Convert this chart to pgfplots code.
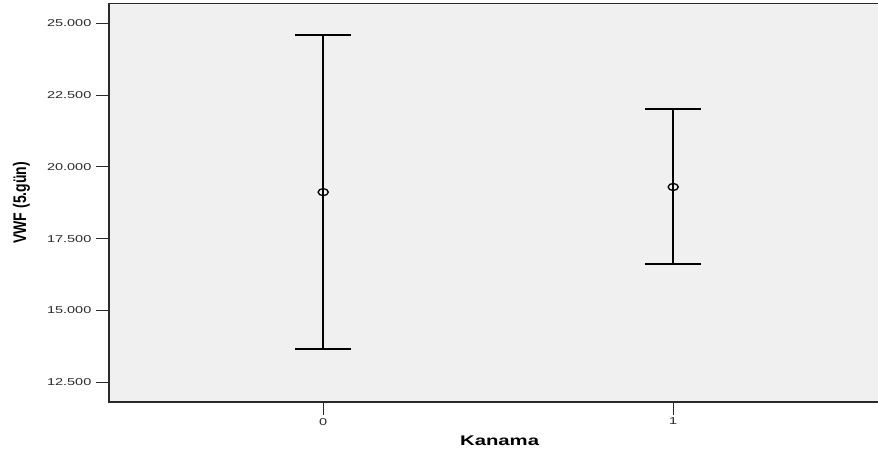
\documentclass[border=0pt]{standalone}
\usepackage{pgfplots}
\pgfplotsset{compat=1.18}
\usepackage{fontspec}
\setmainfont{Liberation Sans}
\definecolor{bg}{HTML}{F0F0F0}
\definecolor{axc}{HTML}{2A2A2A}
\begin{document}
\begin{tikzpicture}
\begin{axis}[
  scale only axis,
  width=781.2pt, height=398.5pt,
  xmin=-0.612, xmax=1.62, ymin=11810, ymax=25690,
  axis background/.style={fill=bg},
  axis line style={axc, line width=1.2pt},
  xtick={0,1}, xticklabels={0,1},
  ytick={12500,15000,17500,20000,22500,25000},
  xtick pos=bottom, ytick pos=left,
  tick align=outside, major tick length=12.5pt,
  tick style={axc, line width=1.1pt},
  scaled y ticks=false,
  /pgf/number format/assume math mode=true,
  yticklabel style={/pgf/number format/.cd, fixed, precision=0, 1000 sep={.}},
  every tick label/.append style={font=\fontsize{10}{12}\selectfont, xscale=1.45, text=axc},
  xlabel={\scalebox{1.45}[1]{\bfseries Kanama}},
  ylabel={\scalebox{1}[1.3]{\bfseries VWF (5.gün)}},
  xlabel style={font=\fontsize{14}{16}\selectfont, at={(axis description cs:0.5,0)}, yshift=-34pt, anchor=north, inner sep=0pt},
  ylabel style={font=\fontsize{14}{16}\selectfont, at={(axis description cs:-0.1233,0.5)}, anchor=north, inner sep=0pt},
]
\addplot[black, only marks, mark=o, mark size=3.5pt, mark options={xscale=1.45, line width=1.3pt},
  error bars/.cd, y dir=both, y explicit,
  error bar style={line width=1.8pt, black},
  error mark options={rotate=90, mark size=28pt, line width=1.8pt, black}]
  table[x=x, y=y, y error plus=ep, y error minus=em] {
x y ep em
0 19120 5470 5450
};
\addplot[black, only marks, mark=o, mark size=3.5pt, mark options={xscale=1.45, line width=1.3pt},
  error bars/.cd, y dir=both, y explicit,
  error bar style={line width=2.4pt, black},
  error mark options={rotate=90, mark size=28pt, line width=2pt, black}]
  table[x=x, y=y, y error plus=ep, y error minus=em] {
x y ep em
1 19300 2700 2670
};
\end{axis}
\pgfresetboundingbox
\useasboundingbox (-109pt,-54pt) rectangle (769pt,402pt);
\end{tikzpicture}
\end{document}
